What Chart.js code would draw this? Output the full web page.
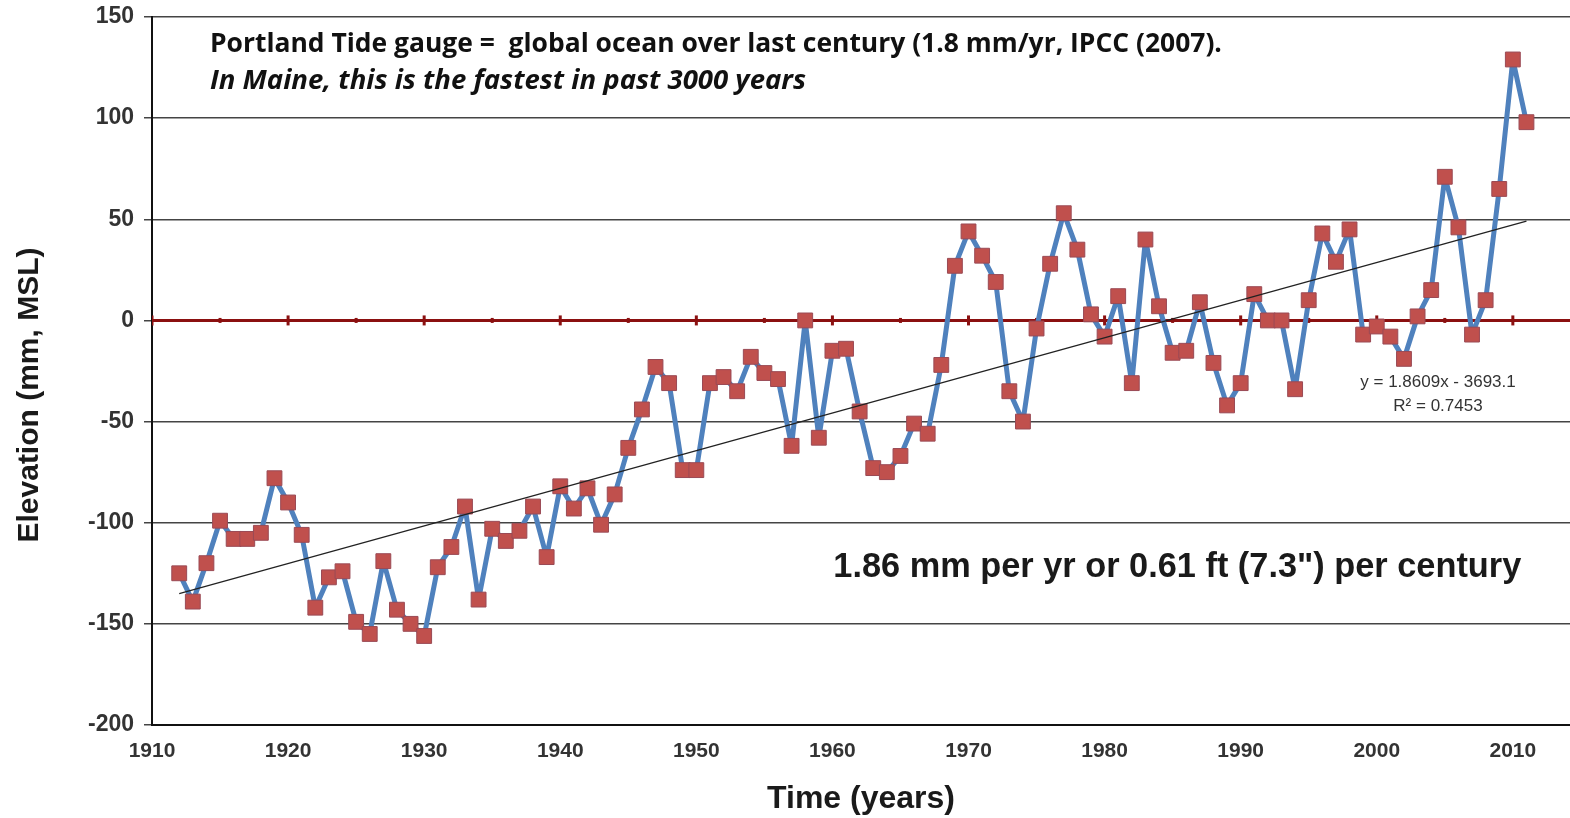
<!DOCTYPE html>
<html>
<head>
<meta charset="utf-8">
<script src="https://cdn.jsdelivr.net/npm/chart.js@4"></script>
<style>
  body { margin: 0; background: #fff; }
  #wrap { width: 1570px; height: 818px; }
</style>
</head>
<body>
<div id="wrap"><canvas id="Graph"></canvas></div>
<script>
// annual mean sea level, Portland ME (mm relative to MSL)
const years = [
  1912,1913,1914,1915,1916,1917,1918,1919,1920,1921,
  1922,1923,1924,1925,1926,1927,1928,1929,1930,1931,
  1932,1933,1934,1935,1936,1937,1938,1939,1940,1941,
  1942,1943,1944,1945,1946,1947,1948,1949,1950,1951,
  1952,1953,1954,1955,1956,1957,1958,1959,1960,1961,
  1962,1963,1964,1965,1966,1967,1968,1969,1970,1971,
  1972,1973,1974,1975,1976,1977,1978,1979,1980,1981,
  1982,1983,1984,1985,1986,1987,1988,1989,1990,1991,
  1992,1993,1994,1995,1996,1997,1998,1999,2000,2001,
  2002,2003,2004,2005,2006,2007,2008,2009,2010,2011
];
const elevation = [
  -125,-139,-120,-99,-108,-108,-105,-78,-90,-106,
  -142,-127,-124,-149,-155,-119,-143,-150,-156,-122,
  -112,-92,-138,-103,-109,-104,-92,-117,-82,-93,
  -83,-101,-86,-63,-44,-23,-31,-74,-74,-31,
  -28,-35,-18,-26,-29,-62,0,-58,-15,-14,
  -45,-73,-75,-67,-51,-56,-22,27,44,32,
  19,-35,-50,-4,28,53,35,3,-8,12,
  -31,40,7,-16,-15,9,-21,-42,-31,13,
  0,0,-34,10,43,29,45,-7,-3,-8,
  -19,2,15,71,46,-7,10,65,129,98
];

// linear trend (y = 1.8609x - 3693.1) end points
const trendYears = [1912, 2011];
const trendValues = [-135.1, 49.1];

// axis tick labels
const xTicks = [1910,1920,1930,1940,1950,1960,1970,1980,1990,2000,2010];

// zero reference line with its tick marks
const zeroYears = [1910, 2015];
const zeroTickYears = [1910,1915,1920,1925,1930,1935,1940,1945,1950,1955,1960,1965,1970,1975,1980,1985,1990,1995,2000,2005,2010];

const blue = "#4f81bd";
const red = "#c0504d";
const darkRed = "#8b1010";

function pairs(xs, ys){
  return xs.map((x, i) => ({x: x, y: ys[i]}));
}

// pick a font size so the text spans the wanted width
function fitFont(ctx, text, style, family, width){
  ctx.font = style + " 100px " + family;
  const size = 100 * width / ctx.measureText(text).width;
  ctx.font = style + " " + size.toFixed(2) + "px " + family;
}

const notes = {
  id: "notes",
  afterDraw(chart){
    const ctx = chart.ctx;
    const x = chart.scales.x, y = chart.scales.y;
    const sans = "'Open Sans', Lato, sans-serif";
    const t1 = "Portland Tide gauge =  global ocean over last century (1.8 mm/yr, IPCC (2007).";
    const t2 = "In Maine, this is the fastest in past 3000 years";
    const t3 = "1.86 mm per yr or 0.61 ft (7.3\") per century";
    ctx.save();
    ctx.fillStyle = "#111";
    ctx.textBaseline = "middle";
    ctx.textAlign = "left";
    fitFont(ctx, t1, "bold", sans, 1012);
    ctx.fillText(t1, x.getPixelForValue(1914.26), y.getPixelForValue(136.5));
    fitFont(ctx, t2, "italic bold", sans, 596);
    ctx.fillText(t2, x.getPixelForValue(1914.26), y.getPixelForValue(118.2));
    ctx.fillStyle = "#1a1a1a";
    fitFont(ctx, t3, "bold", "'Liberation Sans', Arial, sans-serif", 688);
    ctx.fillText(t3, x.getPixelForValue(1960.07), y.getPixelForValue(-122));
    ctx.font = "17px 'Liberation Sans', Arial, sans-serif";
    ctx.fillStyle = "#333";
    ctx.textAlign = "center";
    ctx.fillText("y = 1.8609x - 3693.1", x.getPixelForValue(2004.5), y.getPixelForValue(-30.7));
    ctx.fillText("R\u00b2 = 0.7453", x.getPixelForValue(2004.5), y.getPixelForValue(-42.5));
    // y axis title
    ctx.translate(30, 395);
    ctx.rotate(-Math.PI / 2);
    ctx.font = "bold 30px 'Liberation Sans', Arial, sans-serif";
    ctx.fillStyle = "#1a1a1a";
    ctx.fillText("Elevation (mm, MSL)", 0, 0);
    ctx.restore();
  }
};

new Chart("Graph", {
  type: "line",
  data: {
    datasets: [
      {
        data: pairs(zeroYears, [0, 0]),
        borderColor: darkRed,
        borderWidth: 3,
        pointRadius: 0,
        order: 4
      },
      {
        type: "scatter",
        data: pairs(zeroTickYears, zeroTickYears.map(() => 0)),
        pointStyle: "line",
        rotation: 90,
        pointRadius: zeroTickYears.map(v => v % 10 === 0 ? 5 : 2.5),
        borderColor: darkRed,
        borderWidth: 3,
        order: 3
      },
      {
        data: pairs(years, elevation),
        borderColor: blue,
        borderWidth: 5,
        borderJoinStyle: "round",
        pointStyle: "rect",
        pointRadius: 10.5,
        pointBackgroundColor: red,
        pointBorderColor: "#9a4a55",
        pointBorderWidth: 1,
        tension: 0,
        order: 2
      },
      {
        data: pairs(trendYears, trendValues),
        borderColor: "#222",
        borderWidth: 1.3,
        pointRadius: 0,
        order: 1
      }
    ]
  },
  options: {
    animation: false,
    responsive: true,
    maintainAspectRatio: false,
    layout: {autoPadding: false, padding: {top: 17, right: 0, left: 0, bottom: 0}},
    plugins: {legend: {display: false}, tooltip: {enabled: false}},
    scales: {
      x: {
        type: "linear",
        min: 1910,
        max: 2014.2,
        afterFit: s => { s.height = 93; s.paddingLeft = 0; s.paddingRight = 0; },
        afterBuildTicks: s => { s.ticks = xTicks.map(v => ({value: v})); },
        ticks: {color: "#333", padding: 14, maxRotation: 0, autoSkip: false,
          callback: v => String(v),
          font: {family: "'Liberation Sans', Arial, sans-serif", size: 21, weight: "bold"}},
        grid: {display: false, drawTicks: false},
        border: {color: "#111", width: 2},
        title: {display: true, text: "Time (years)", color: "#1a1a1a", padding: {top: 0, bottom: 0},
          font: {family: "'Liberation Sans', Arial, sans-serif", size: 32, weight: "bold"}}
      },
      y: {
        min: -200,
        max: 150,
        afterFit: s => { s.width = 152; s.paddingTop = 0; s.paddingBottom = 0; },
        ticks: {stepSize: 50, color: "#333", padding: 10,
          font: {family: "'Liberation Sans', Arial, sans-serif", size: 23, weight: "bold"}},
        grid: {color: "#444", lineWidth: 1.5, tickLength: 8},
        border: {color: "#111", width: 2}
      }
    }
  },
  plugins: [notes]
});
</script>
</body>
</html>
